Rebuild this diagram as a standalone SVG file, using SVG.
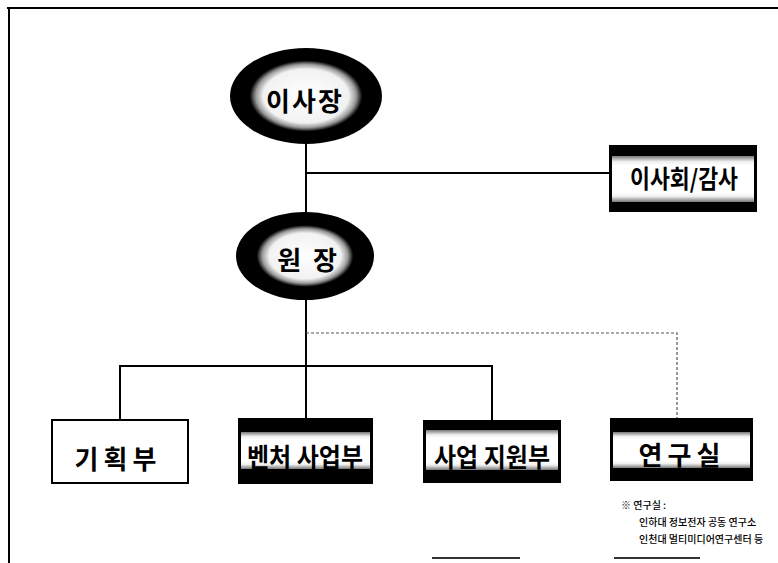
<svg xmlns="http://www.w3.org/2000/svg" width="778" height="563" viewBox="0 0 778 563">
<defs>
  <radialGradient id="glow1" cx="0.5" cy="0.5" r="0.5">
    <stop offset="0" stop-color="#fff"/>
    <stop offset="0.56" stop-color="#f2f2f2"/>
    <stop offset="0.66" stop-color="#999"/>
    <stop offset="0.74" stop-color="#000"/>
    <stop offset="1" stop-color="#000"/>
  </radialGradient>
  <radialGradient id="glow2" cx="0.5" cy="0.5" r="0.5">
    <stop offset="0" stop-color="#fff"/>
    <stop offset="0.52" stop-color="#f2f2f2"/>
    <stop offset="0.62" stop-color="#999"/>
    <stop offset="0.7" stop-color="#000"/>
    <stop offset="1" stop-color="#000"/>
  </radialGradient>
  <linearGradient id="band" x1="0" y1="0" x2="0" y2="1">
    <stop offset="0" stop-color="#777"/>
    <stop offset="0.12" stop-color="#eee"/>
    <stop offset="0.2" stop-color="#fff"/>
    <stop offset="0.8" stop-color="#fff"/>
    <stop offset="0.88" stop-color="#eee"/>
    <stop offset="1" stop-color="#777"/>
  </linearGradient>
</defs>
<style>
  .t { font-family: "Noto Sans CJK KR", "Noto Sans", sans-serif; fill: #000; text-anchor: middle; dominant-baseline: central; }
  .big { font-size: 26px; font-weight: 700; }
  .note { font-family: "Noto Sans CJK KR", "Noto Sans", sans-serif; font-size: 10px; font-weight: 500; fill: #000; }
  .line { stroke: #000; stroke-width: 2; fill: none; }
  .dot { stroke: #555; stroke-width: 1.2; stroke-dasharray: 3 2; fill: none; }
  .frame { stroke: #000; stroke-width: 2; fill: none; }
  .outer { fill: #000; }
  .inner { fill: url(#band); }
  .plain { fill: #fff; stroke: #000; stroke-width: 2; }
</style>
<rect width="778" height="563" fill="#fff"/>
<g id="frame">
  <line class="frame" x1="7" y1="8" x2="778" y2="8"/>
  <line class="frame" x1="9" y1="8" x2="9" y2="563"/>
  <line x1="432" y1="558" x2="520" y2="558" stroke="#333" stroke-width="2"/>
  <line x1="614" y1="558" x2="700" y2="558" stroke="#333" stroke-width="2"/>
</g>
<g id="connectors">
  <line class="line" x1="306" y1="143" x2="306" y2="213"/>
  <line class="line" x1="306" y1="173" x2="610" y2="173"/>
  <line class="line" x1="306" y1="299" x2="306" y2="419"/>
  <polyline class="line" points="120,420 120,366 492,366 492,420"/>
  <polyline class="dot" points="306,333 677,333 677,419"/>
</g>
<g id="node-chairman">
  <ellipse cx="306" cy="96" rx="76" ry="48" fill="url(#glow1)"/>
  <text class="t big" x="305" y="99" letter-spacing="2">이사장</text>
</g>
<g id="node-board">
  <rect class="outer" x="609" y="145" width="148" height="67"/>
  <rect class="inner" x="612" y="156" width="142" height="46"/>
  <text class="t" x="684" y="177" font-size="25" font-weight="700" textLength="108" lengthAdjust="spacingAndGlyphs">이사회/감사</text>
</g>
<g id="node-director">
  <ellipse cx="305" cy="256" rx="69" ry="44" fill="url(#glow2)"/>
  <text class="t big" x="307" y="258" xml:space="preserve">원  장</text>
</g>
<g id="node-planning">
  <rect class="plain" x="52" y="420" width="136" height="63"/>
  <text class="t big" x="118" y="457" letter-spacing="5">기획부</text>
</g>
<g id="node-venture">
  <rect class="outer" x="238" y="418" width="135" height="66"/>
  <rect class="inner" x="241" y="432" width="129" height="37"/>
  <text class="t big" x="305" y="455" textLength="116" lengthAdjust="spacingAndGlyphs">벤처 사업부</text>
</g>
<g id="node-support">
  <rect class="outer" x="423" y="420" width="138" height="63"/>
  <rect class="inner" x="426" y="430" width="132" height="40"/>
  <text class="t big" x="492" y="455" textLength="116" lengthAdjust="spacingAndGlyphs">사업 지원부</text>
</g>
<g id="node-lab">
  <rect class="outer" x="610" y="418" width="143" height="63"/>
  <rect class="inner" x="613" y="432" width="137" height="36"/>
  <text class="t big" x="682" y="453" letter-spacing="5">연구실</text>
</g>
<g id="footnote">
  <text class="note" x="621" y="509" font-size="11">※ 연구실 :</text>
  <text class="note" x="639" y="526">인하대 정보전자 공동 연구소</text>
  <text class="note" x="639" y="543">인천대 멀티미디어연구센터 등</text>
</g>
</svg>
